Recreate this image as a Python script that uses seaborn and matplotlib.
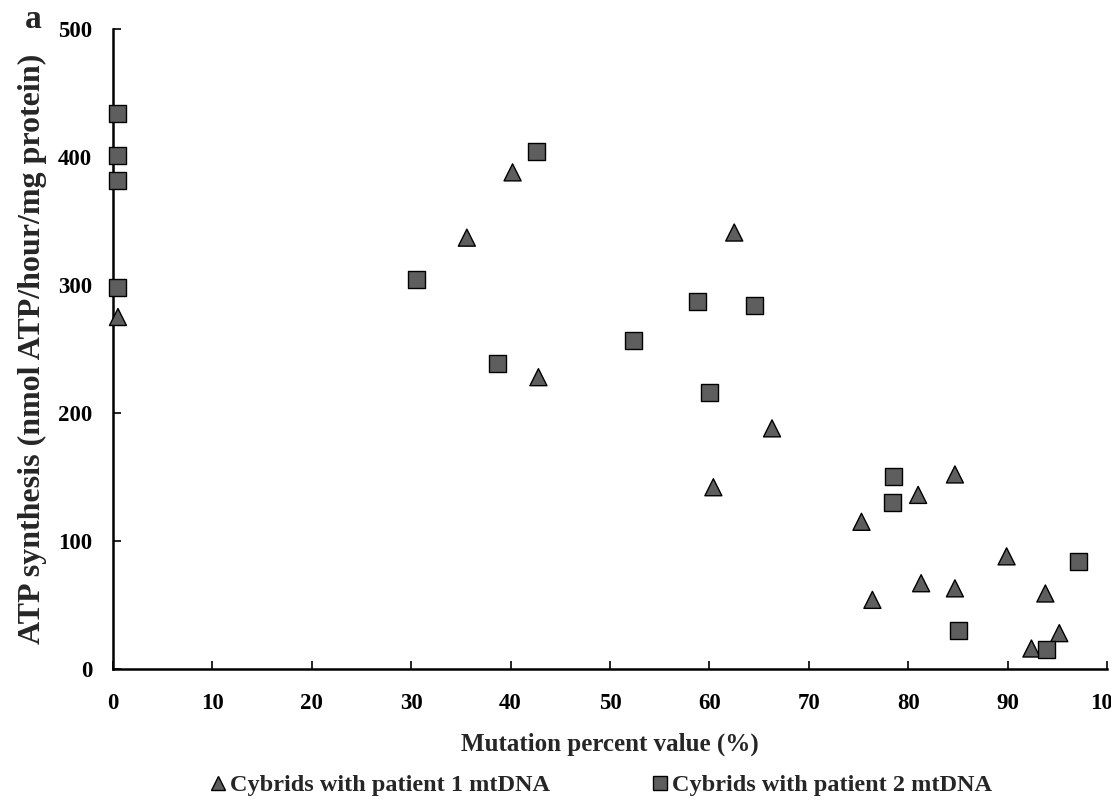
import matplotlib
matplotlib.use("Agg")
import matplotlib.pyplot as plt
import seaborn as sns
import pandas as pd

# Data
p1_mutation = [0.5, 35.6, 40.2, 42.8, 62.5, 60.4, 66.3, 75.3, 76.4, 81.0, 81.3,
               84.7, 84.7, 89.9, 93.8, 95.2, 92.4]
p1_atp = [275, 337, 388, 228, 341, 142, 188, 115, 54, 136, 67,
          152, 63, 88, 59, 28, 16]
p2_mutation = [0.5, 0.5, 0.5, 0.5, 30.5, 42.6, 38.7, 52.4, 58.8, 64.5, 60.0,
               78.5, 78.4, 85.1, 97.1, 93.9]
p2_atp = [434, 401, 382, 298, 304, 404, 239, 257, 287, 284, 216,
          150, 130, 30, 84, 15]
series_labels = ["Cybrids with patient 1 mtDNA", "Cybrids with patient 2 mtDNA"]
x_ticks = [0, 10, 20, 30, 40, 50, 60, 70, 80, 90, 100]
y_ticks = [0, 100, 200, 300, 400, 500]

df = pd.DataFrame({
    "mutation": p1_mutation + p2_mutation,
    "atp": p1_atp + p2_atp,
    "group": [series_labels[0]] * len(p1_mutation) + [series_labels[1]] * len(p2_mutation),
})

sns.set_style("white")
plt.rcParams["font.family"] = ["Liberation Serif", "DejaVu Serif"]
plt.rcParams["font.weight"] = "bold"

fig = plt.figure(figsize=(11.11, 8.06), dpi=100)
ax = fig.add_axes([0.1017, 0.1700, 0.8947, 0.7940])

sns.scatterplot(data=df, x="mutation", y="atp", style="group",
                markers={series_labels[0]: "^", series_labels[1]: "s"},
                color="#5e5e5e", edgecolor="black", linewidth=1.0, s=150,
                ax=ax, zorder=3, clip_on=False, legend=True)

ax.set_xlim(0, 100)
ax.set_ylim(0, 500)
ax.set_xticks(x_ticks)
ax.set_yticks(y_ticks)
ax.set_xticklabels([str(t) for t in x_ticks], fontsize=16.5, fontweight="bold")
ax.set_yticklabels([str(t) for t in y_ticks], fontsize=16.5, fontweight="bold")
ax.tick_params(axis="x", direction="in", length=6, width=1.2, pad=17, colors="black")
ax.tick_params(axis="y", direction="in", length=6, width=1.2, pad=15, colors="black")
ax.tick_params(bottom=True, left=True)

for side in ["top", "right"]:
    ax.spines[side].set_visible(False)
for side in ["left", "bottom"]:
    ax.spines[side].set_linewidth(1.8)
    ax.spines[side].set_color("black")

ax.set_xlabel("Mutation percent value (%)", fontsize=18, fontweight="bold", labelpad=14)
ax.set_ylabel("ATP synthesis (nmol ATP/hour/mg protein)", fontsize=23,
              fontweight="bold", labelpad=8)

handles, labels = ax.get_legend_handles_labels()
leg = ax.legend(handles, labels, loc="center", bbox_to_anchor=(0.539, 0.026),
                bbox_transform=fig.transFigure, ncol=2, frameon=False,
                fontsize=17.5, handletextpad=0.0, columnspacing=4.0,
                markerscale=0.8, handlelength=1.0)
for t in leg.get_texts():
    t.set_fontweight("bold")

fig.text(0.022, 0.965, "a", fontsize=24, fontweight="bold", va="baseline", ha="left")

fig.savefig("out.png", dpi=100)
